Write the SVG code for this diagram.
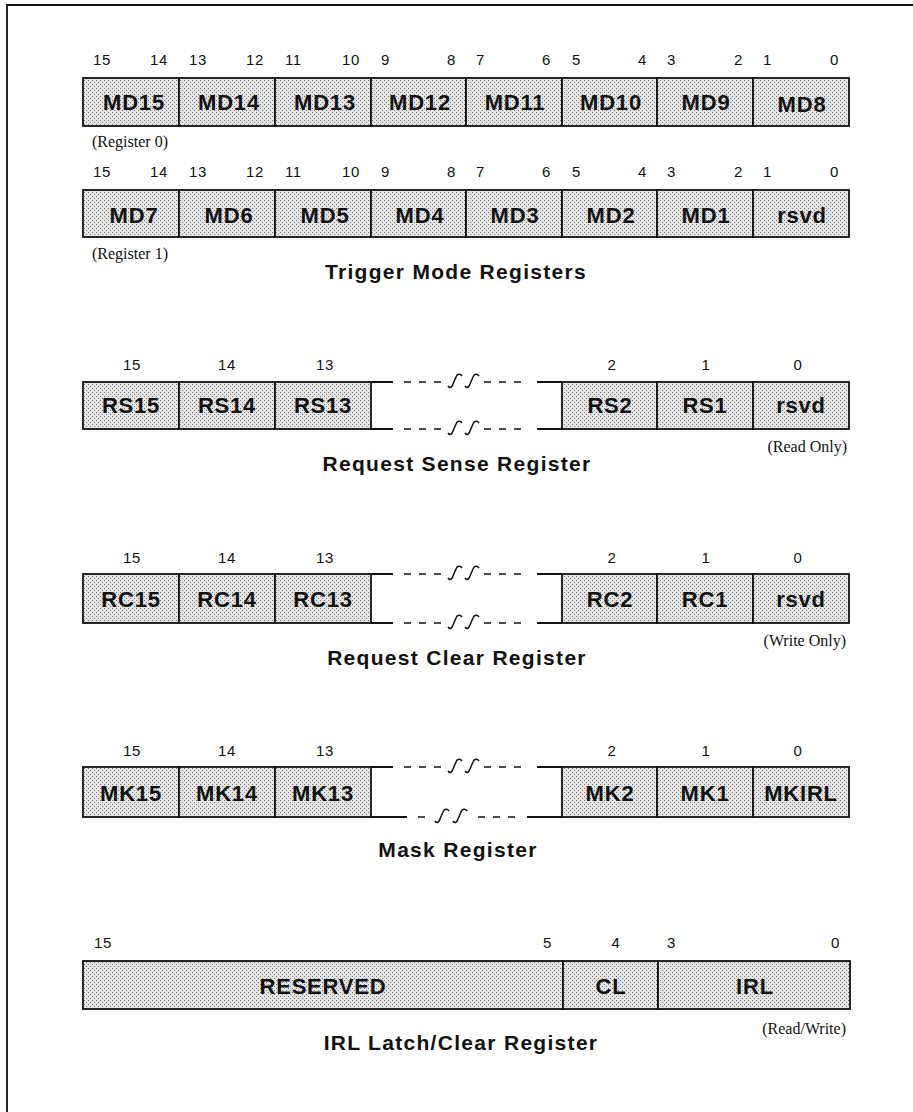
<svg xmlns="http://www.w3.org/2000/svg" width="913" height="1112" viewBox="0 0 913 1112">
<style>
.cell{fill:url(#dots);stroke:#111;stroke-width:1.8}
.lbl{font-family:"Liberation Sans",Arial,sans-serif;font-weight:bold;font-size:22px;letter-spacing:0.8px;text-anchor:middle;fill:#111}
.bit{font-family:"Liberation Sans",Arial,sans-serif;font-size:15px;letter-spacing:0.6px;fill:#111}
.mid{text-anchor:middle}
.end{text-anchor:end}
.title{font-family:"Liberation Sans",Arial,sans-serif;font-weight:bold;font-size:21px;letter-spacing:1.3px;text-anchor:middle;fill:#111}
.note{font-family:"Liberation Serif","Times New Roman",serif;font-size:16px;fill:#111}
.solid{stroke:#111;stroke-width:1.8;fill:none}
.dash{stroke:#111;stroke-width:1.5;fill:none;stroke-dasharray:7 8}
.sq{stroke:#111;stroke-width:1.5;fill:none}
.frame{stroke:#111;stroke-width:1.8;fill:none}
</style>
<defs>
<pattern id="dots" width="4" height="4" patternUnits="userSpaceOnUse">
<rect width="4" height="4" fill="#e4e4e4"/>
<rect width="1" height="1" fill="#7a7a7a"/>
<rect x="2" y="2" width="1" height="1" fill="#7a7a7a"/>
</pattern>
<path id="squig" d="M-7,5 C-5,8 -3,6 -2,3 L1,-4 C2,-7 5,-8 7,-5"/>
</defs>
<rect width="913" height="1112" fill="#fff"/>
<path class="frame" d="M7,1112 V5 H913"/>

<!-- Trigger Mode Register 0 -->
<g id="reg0">
<g id="md15"><rect class="cell" x="83" y="78" width="96" height="48"/><text class="lbl" x="134" y="110">MD15</text></g>
<g id="md14"><rect class="cell" x="179" y="78" width="96" height="48"/><text class="lbl" x="229" y="110">MD14</text></g>
<g id="md13"><rect class="cell" x="275" y="78" width="96" height="48"/><text class="lbl" x="325" y="110">MD13</text></g>
<g id="md12"><rect class="cell" x="371" y="78" width="95" height="48"/><text class="lbl" x="420" y="110">MD12</text></g>
<g id="md11"><rect class="cell" x="466" y="78" width="96" height="48"/><text class="lbl" x="515" y="110">MD11</text></g>
<g id="md10"><rect class="cell" x="562" y="78" width="95" height="48"/><text class="lbl" x="611" y="110">MD10</text></g>
<g id="md9"><rect class="cell" x="657" y="78" width="96" height="48"/><text class="lbl" x="706" y="110">MD9</text></g>
<g id="md8"><rect class="cell" x="753" y="78" width="96" height="48"/><text class="lbl" x="802" y="112">MD8</text></g>
<g id="reg0-bits" class="bit">
<text x="93" y="65">15</text><text class="end" x="168" y="65">14</text>
<text x="189" y="65">13</text><text class="end" x="264" y="65">12</text>
<text x="285" y="65">11</text><text class="end" x="360" y="65">10</text>
<text x="381" y="65">9</text><text class="end" x="456" y="65">8</text>
<text x="476" y="65">7</text><text class="end" x="551" y="65">6</text>
<text x="572" y="65">5</text><text class="end" x="647" y="65">4</text>
<text x="667" y="65">3</text><text class="end" x="743" y="65">2</text>
<text x="763" y="65">1</text><text class="end" x="839" y="65">0</text>
</g>
<text class="note" x="92" y="147">(Register 0)</text>
</g>

<!-- Trigger Mode Register 1 -->
<g id="reg1">
<g id="md7"><rect class="cell" x="83" y="190" width="96" height="47"/><text class="lbl" x="134" y="223">MD7</text></g>
<g id="md6"><rect class="cell" x="179" y="190" width="96" height="47"/><text class="lbl" x="229" y="223">MD6</text></g>
<g id="md5"><rect class="cell" x="275" y="190" width="96" height="47"/><text class="lbl" x="325" y="223">MD5</text></g>
<g id="md4"><rect class="cell" x="371" y="190" width="95" height="47"/><text class="lbl" x="420" y="223">MD4</text></g>
<g id="md3"><rect class="cell" x="466" y="190" width="96" height="47"/><text class="lbl" x="515" y="223">MD3</text></g>
<g id="md2"><rect class="cell" x="562" y="190" width="95" height="47"/><text class="lbl" x="611" y="223">MD2</text></g>
<g id="md1"><rect class="cell" x="657" y="190" width="96" height="47"/><text class="lbl" x="706" y="223">MD1</text></g>
<g id="rsvd1"><rect class="cell" x="753" y="190" width="96" height="47"/><text class="lbl" x="802" y="223">rsvd</text></g>
<g id="reg1-bits" class="bit">
<text x="93" y="177">15</text><text class="end" x="168" y="177">14</text>
<text x="189" y="177">13</text><text class="end" x="264" y="177">12</text>
<text x="285" y="177">11</text><text class="end" x="360" y="177">10</text>
<text x="381" y="177">9</text><text class="end" x="456" y="177">8</text>
<text x="476" y="177">7</text><text class="end" x="551" y="177">6</text>
<text x="572" y="177">5</text><text class="end" x="647" y="177">4</text>
<text x="667" y="177">3</text><text class="end" x="743" y="177">2</text>
<text x="763" y="177">1</text><text class="end" x="839" y="177">0</text>
</g>
<text class="note" x="92" y="259">(Register 1)</text>
<text class="title" x="456" y="279">Trigger Mode Registers</text>
</g>

<!-- Request Sense Register -->
<g id="rs">
<g id="rs15"><rect class="cell" x="83" y="382" width="96" height="47"/><text class="lbl" x="131" y="413">RS15</text></g>
<g id="rs14"><rect class="cell" x="179" y="382" width="96" height="47"/><text class="lbl" x="227" y="413">RS14</text></g>
<g id="rs13"><rect class="cell" x="275" y="382" width="96" height="47"/><text class="lbl" x="323" y="413">RS13</text></g>
<g id="rs2"><rect class="cell" x="562" y="382" width="95" height="47"/><text class="lbl" x="610" y="413">RS2</text></g>
<g id="rs1"><rect class="cell" x="657" y="382" width="96" height="47"/><text class="lbl" x="705" y="413">RS1</text></g>
<g id="rs0"><rect class="cell" x="753" y="382" width="96" height="47"/><text class="lbl" x="801" y="413">rsvd</text></g>
<g class="bit">
<text class="mid" x="132" y="370">15</text><text class="mid" x="227" y="370">14</text><text class="mid" x="325" y="370">13</text>
<text class="mid" x="612" y="370">2</text><text class="mid" x="706" y="370">1</text><text class="mid" x="798" y="370">0</text>
</g>
<text class="note end" x="847" y="452">(Read Only)</text>
<text class="title" x="457" y="471">Request Sense Register</text>
</g>

<!-- Request Clear Register -->
<g id="rc">
<g id="rc15"><rect class="cell" x="83" y="574" width="96" height="49"/><text class="lbl" x="131" y="607">RC15</text></g>
<g id="rc14"><rect class="cell" x="179" y="574" width="96" height="49"/><text class="lbl" x="227" y="607">RC14</text></g>
<g id="rc13"><rect class="cell" x="275" y="574" width="96" height="49"/><text class="lbl" x="323" y="607">RC13</text></g>
<g id="rc2"><rect class="cell" x="562" y="574" width="95" height="49"/><text class="lbl" x="610" y="607">RC2</text></g>
<g id="rc1"><rect class="cell" x="657" y="574" width="96" height="49"/><text class="lbl" x="705" y="607">RC1</text></g>
<g id="rc0"><rect class="cell" x="753" y="574" width="96" height="49"/><text class="lbl" x="801" y="607">rsvd</text></g>
<g class="bit">
<text class="mid" x="132" y="563">15</text><text class="mid" x="227" y="563">14</text><text class="mid" x="325" y="563">13</text>
<text class="mid" x="612" y="563">2</text><text class="mid" x="706" y="563">1</text><text class="mid" x="798" y="563">0</text>
</g>
<text class="note end" x="846" y="646">(Write Only)</text>
<text class="title" x="457" y="665">Request Clear Register</text>
</g>

<!-- Mask Register -->
<g id="mk">
<g id="mk15"><rect class="cell" x="83" y="767" width="96" height="50"/><text class="lbl" x="131" y="801">MK15</text></g>
<g id="mk14"><rect class="cell" x="179" y="767" width="96" height="50"/><text class="lbl" x="227" y="801">MK14</text></g>
<g id="mk13"><rect class="cell" x="275" y="767" width="96" height="50"/><text class="lbl" x="323" y="801">MK13</text></g>
<g id="mk2"><rect class="cell" x="562" y="767" width="95" height="50"/><text class="lbl" x="610" y="801">MK2</text></g>
<g id="mk1"><rect class="cell" x="657" y="767" width="96" height="50"/><text class="lbl" x="705" y="801">MK1</text></g>
<g id="mk0"><rect class="cell" x="753" y="767" width="96" height="50"/><text class="lbl" x="801" y="801">MKIRL</text></g>
<g class="bit">
<text class="mid" x="132" y="756">15</text><text class="mid" x="227" y="756">14</text><text class="mid" x="325" y="756">13</text>
<text class="mid" x="612" y="756">2</text><text class="mid" x="706" y="756">1</text><text class="mid" x="798" y="756">0</text>
</g>
<text class="title" x="458" y="857">Mask Register</text>
</g>

<!-- IRL Latch/Clear Register -->
<g id="irl">
<g id="reserved"><rect class="cell" x="83" y="961" width="480" height="48"/><text class="lbl" x="323" y="994">RESERVED</text></g>
<g id="cl"><rect class="cell" x="563" y="961" width="95" height="48"/><text class="lbl" x="611" y="994">CL</text></g>
<g id="irlf"><rect class="cell" x="658" y="961" width="192" height="48"/><text class="lbl" x="755" y="994">IRL</text></g>
<g class="bit">
<text x="94" y="948">15</text><text class="end" x="552" y="948">5</text>
<text class="mid" x="616" y="948">4</text><text x="667" y="948">3</text><text class="end" x="840" y="948">0</text>
</g>
<text class="note end" x="846" y="1034">(Read/Write)</text>
<text class="title" x="461" y="1050">IRL Latch/Clear Register</text>
</g>

<!-- break connectors -->
<g id="breaks">
<g id="rs-break">
<path class="solid" d="M371,382 H393 M537,382 H562 M371,429 H393 M537,429 H562"/>
<path class="dash" d="M404,382 H444 M484,382 H524 M404,429 H444 M484,429 H524"/>
<use href="#squig" class="sq" x="455" y="381"/><use href="#squig" class="sq" x="472" y="381"/>
<use href="#squig" class="sq" x="455" y="428"/><use href="#squig" class="sq" x="472" y="428"/>
</g>
<g id="rc-break">
<path class="solid" d="M371,574 H393 M537,574 H562 M371,623 H393 M537,623 H562"/>
<path class="dash" d="M404,574 H444 M484,574 H524 M404,623 H444 M484,623 H524"/>
<use href="#squig" class="sq" x="455" y="573"/><use href="#squig" class="sq" x="472" y="573"/>
<use href="#squig" class="sq" x="455" y="622"/><use href="#squig" class="sq" x="472" y="622"/>
</g>
<g id="mk-break">
<path class="solid" d="M371,767 H393 M537,767 H562 M371,817 H407 M527,817 H562"/>
<path class="dash" d="M404,767 H444 M484,767 H524 M418,817 H426 M478,817 H516"/>
<use href="#squig" class="sq" x="455" y="766"/><use href="#squig" class="sq" x="472" y="766"/>
<use href="#squig" class="sq" x="442" y="816"/><use href="#squig" class="sq" x="460" y="816"/>
</g>
</g>
</svg>
